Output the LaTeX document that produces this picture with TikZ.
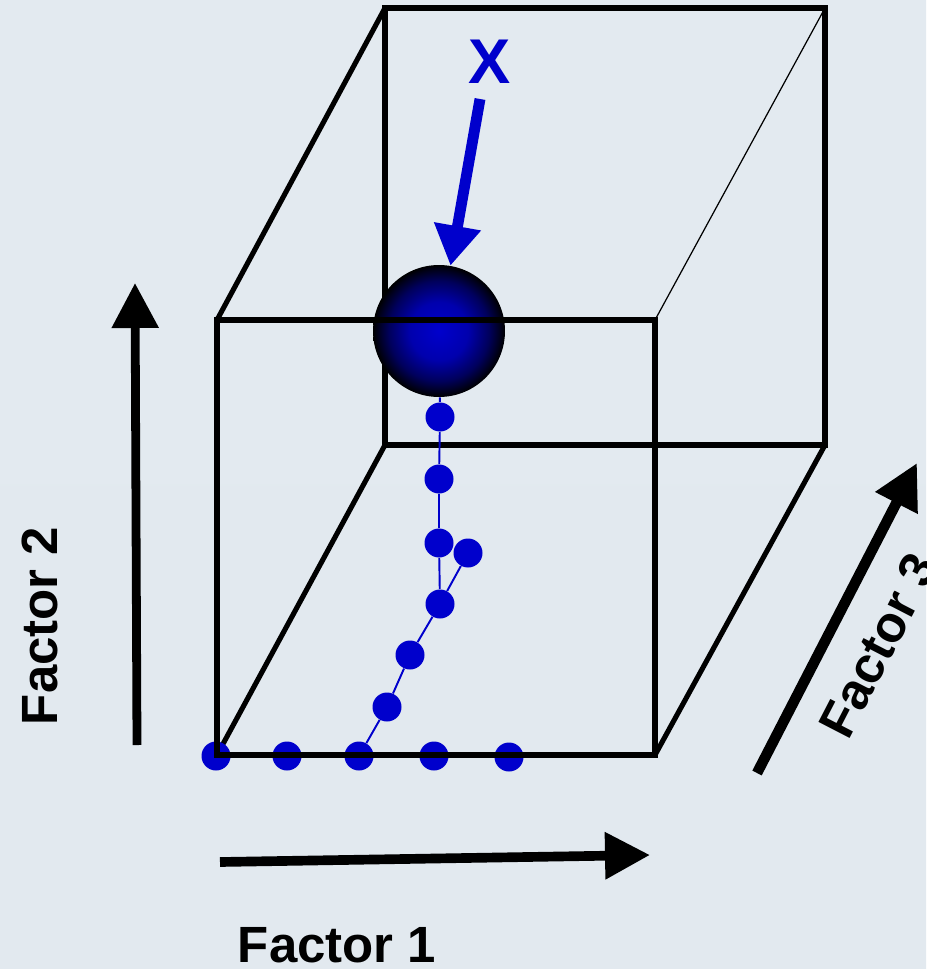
\documentclass[tikz,border=0pt]{standalone}
\usepackage{fontspec}
\setmainfont{Liberation Sans}
\usepackage{xcolor}
\usepackage{tikz}
\usetikzlibrary{arrows.meta}
\definecolor{dotblue}{HTML}{0000CC}
\definecolor{bgtop}{HTML}{E3EAF0}
\definecolor{bgmid}{HTML}{ECF1F6}
\definecolor{bgbot}{HTML}{E2E9EF}
\pgfdeclareradialshading{ballblue}{\pgfpoint{0bp}{0bp}}{color(0bp)=(dotblue); color(11bp)=(dotblue!85!black); color(19bp)=(dotblue!45!black); color(25bp)=(black); color(50bp)=(black)}

\begin{document}
\begin{tikzpicture}[x=0.02cm,y=-0.02cm]
    \tikzset{
      edge/.style={draw=black,line width=2.9pt},
      thinedge/.style={draw=black,line width=0.7pt},
      dot/.style={circle,fill=dotblue,inner sep=0pt,minimum size=0.58cm},
      trail/.style={draw=dotblue,line width=1.1pt},
      axis/.style={draw=black,line width=5.5pt,-{Triangle[length=0.9cm,width=0.9cm]}},
      lbl/.style={font=\fontsize{29}{34}\selectfont\bfseries,inner sep=0pt}
    }
    \path[use as bounding box,clip] (0,0) rectangle (926,969);
    \fill[top color=bgtop,middle color=bgmid,bottom color=bgbot] (0,0) rectangle (926,969);
    % cube corners
    \coordinate (ftl) at (217,320);
    \coordinate (fbr) at (655,755);
    \coordinate (fbl) at (217,755);
    \coordinate (ftr) at (655,320);
    \coordinate (btl) at (385,8);
    \coordinate (bbr) at (825,445);
    \coordinate (bbl) at (385,445);
    \coordinate (btr) at (825,8);
    % back face and depth edges
    \draw[edge] (btl) rectangle (bbr);
    \draw[edge] (ftl) -- (btl);
    \draw[edge] (fbl) -- (bbl);
    \draw[edge] (fbr) -- (bbr);
    \draw[thinedge] (ftr) -- (btr);
    % point X
    \node[circle,shade,shading=ballblue,inner sep=0pt,minimum size=2.64cm] (ball) at (439,331) {};
    % dots
    \node[dot] (v1) at (440,417) {};
    \node[dot] (v2) at (439,479) {};
    \node[dot] (v3) at (439,543) {};
    \node[dot] (m4) at (440,604) {};
    \node[dot] (m5) at (468,553) {};
    \node[dot] (m3) at (410,655) {};
    \node[dot] (m2) at (387,707) {};
    \node[dot] (b1) at (216,756) {};
    \node[dot] (b2) at (287,756) {};
    \node[dot] (b3) at (359,756) {};
    \node[dot] (b4) at (434,756) {};
    \node[dot] (b5) at (509,757) {};
    \draw[trail] (ball) -- (v1) -- (v2) -- (v3) -- (m4);
    \draw[trail] (b3) -- (m2) -- (m3) -- (m4) -- (m5);
    % front face
    \draw[edge] (ftl) rectangle (fbr);
    % axes
    \coordinate (f1s) at (220,862);
    \coordinate (f1e) at (650,855);
    \coordinate (f2s) at (137,745);
    \coordinate (f2e) at (135,283);
    \coordinate (f3s) at (757,773);
    \coordinate (f3e) at (917,463);
    \draw[axis] (f1s) -- (f1e);
    \draw[axis,line width=5pt] (f2s) -- (f2e);
    \draw[axis,line width=6pt] (f3s) -- (f3e);
    \node[lbl] (f1) at (337,945) {Factor 1};
    \node[lbl,rotate=90] (f2) at (40,626) {Factor 2};
    \node[lbl,rotate=62.7] (f3) at (878,645) {Factor 3};
    % X marker
    \node[font=\fontsize{36}{40}\selectfont\bfseries,text=dotblue,inner sep=0pt] (xl) at (490,62) {X};
    \coordinate (xs) at (480,99);
    \draw[draw=dotblue,line width=6.2pt,-{Triangle[length=0.8cm,width=0.9cm]}] (xs) -- (ball.80);
\end{tikzpicture}
\end{document}
